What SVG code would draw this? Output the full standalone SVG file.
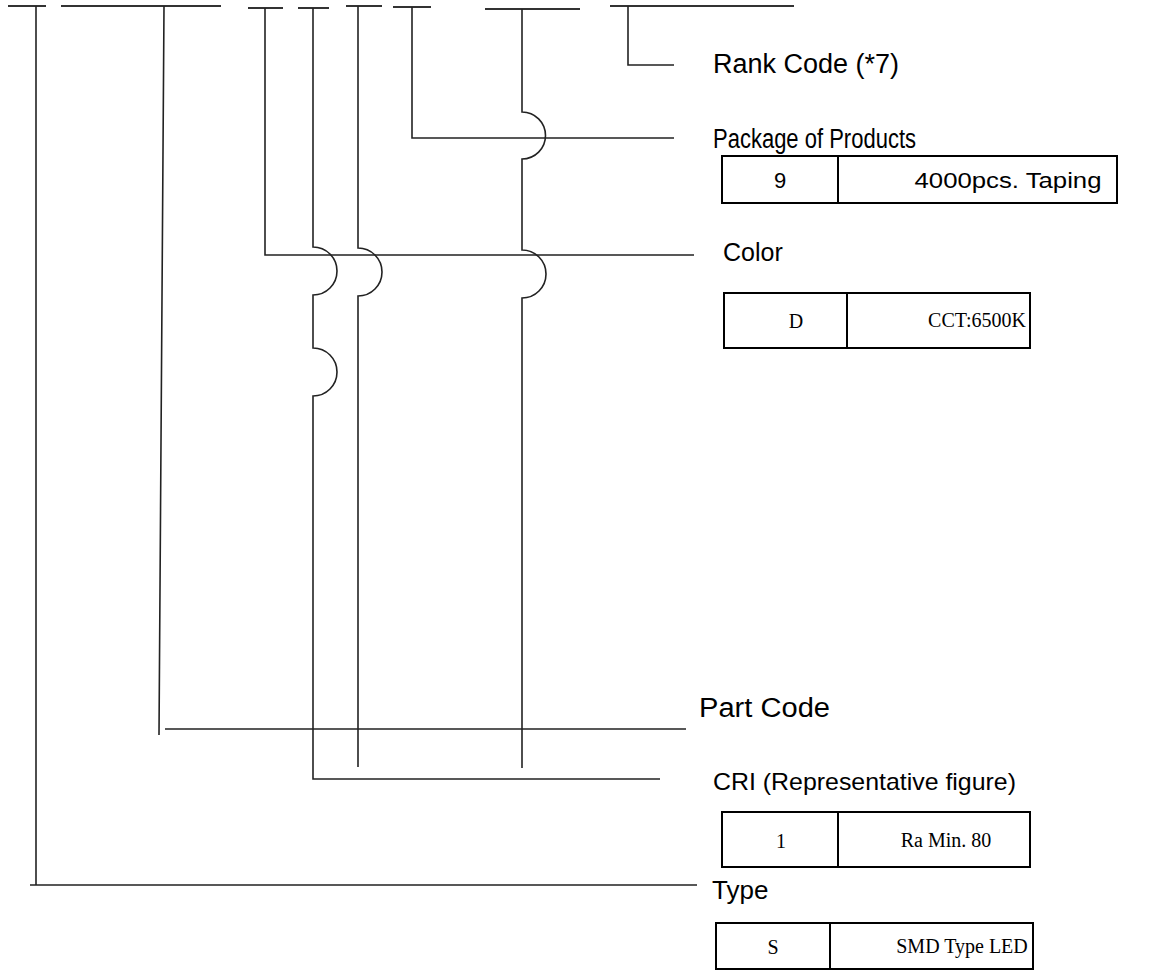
<svg xmlns="http://www.w3.org/2000/svg" width="1160" height="977" viewBox="0 0 1160 977">
<style>
.bar{stroke:#333;stroke-width:2;fill:none}
.ln{stroke:#222;stroke-width:1.6;fill:none}
.box{stroke:#000;stroke-width:2;fill:none}
.lbl{font-family:"Liberation Sans",Arial,sans-serif;fill:#000}
.cs{font-family:"Liberation Sans",Arial,sans-serif;font-size:22px;fill:#000;text-anchor:middle}
.cr{font-family:"Liberation Serif","Times New Roman",serif;font-size:20px;fill:#000;text-anchor:middle}
</style>
<rect width="1160" height="977" fill="#fff"/>
<g id="code-bars">
<line class="bar" x1="8" y1="6" x2="46" y2="6"/>
<line class="bar" x1="61" y1="6" x2="221" y2="6"/>
<line class="bar" x1="248" y1="8" x2="283" y2="8"/>
<line class="bar" x1="298" y1="8" x2="329" y2="8"/>
<line class="bar" x1="346" y1="6" x2="382" y2="6"/>
<line class="bar" x1="393" y1="7" x2="431" y2="7"/>
<line class="bar" x1="485" y1="9" x2="580" y2="9"/>
<line class="bar" x1="610" y1="6" x2="794" y2="6"/>
</g>
<g id="connectors">
<path class="ln" d="M36 6 V885 M30 885 H697"/>
<path class="ln" d="M164 6 L159 735 M165 729 H686"/>
<path class="ln" d="M265 8 V255 H694"/>
<path class="ln" d="M313 8 V247 A24 24 0 0 1 313 295 V348 A24 24 0 0 1 313 396 V779 H660"/>
<path class="ln" d="M358 6 V248 A24 24 0 0 1 358 296 V767"/>
<path class="ln" d="M412 7 V138 H674"/>
<path class="ln" d="M522 9 V112 A23.5 23.5 0 0 1 522 159 V250 A24 24 0 0 1 522 298 V768"/>
<path class="ln" d="M628 6 V65 H674"/>
</g>
<g id="rank-code">
<text class="lbl" x="713" y="73" font-size="27">Rank Code (*7)</text>
</g>
<g id="package">
<text class="lbl" x="713" y="148" font-size="27" textLength="203" lengthAdjust="spacingAndGlyphs">Package of Products</text>
<rect class="box" x="722" y="156" width="395" height="47"/>
<line class="box" x1="838" y1="156" x2="838" y2="203"/>
<text class="cs" x="780" y="188">9</text>
<text class="cs" x="1008" y="188" textLength="187" lengthAdjust="spacingAndGlyphs">4000pcs. Taping</text>
</g>
<g id="color">
<text class="lbl" x="723" y="261" font-size="25">Color</text>
<rect class="box" x="724" y="293" width="306" height="55"/>
<line class="box" x1="847" y1="293" x2="847" y2="348"/>
<text class="cr" x="796" y="328" font-size="23">D</text>
<text class="cr" x="977" y="327" font-size="19">CCT:6500K</text>
</g>
<g id="part-code">
<text class="lbl" x="699" y="717" font-size="27" textLength="131" lengthAdjust="spacingAndGlyphs">Part Code</text>
</g>
<g id="cri">
<text class="lbl" x="713" y="790" font-size="24" textLength="303" lengthAdjust="spacingAndGlyphs">CRI (Representative figure)</text>
<rect class="box" x="722" y="812" width="308" height="55"/>
<line class="box" x1="838" y1="812" x2="838" y2="867"/>
<text class="cr" x="781" y="848" font-size="23">1</text>
<text class="cr" x="946" y="847" font-size="20">Ra Min. 80</text>
</g>
<g id="type">
<text class="lbl" x="712" y="899" font-size="26">Type</text>
<rect class="box" x="716" y="923" width="317" height="46"/>
<line class="box" x1="830" y1="923" x2="830" y2="969"/>
<text class="cr" x="773" y="954" font-size="23">S</text>
<text class="cr" x="962" y="953" font-size="19">SMD Type LED</text>
</g>
</svg>
